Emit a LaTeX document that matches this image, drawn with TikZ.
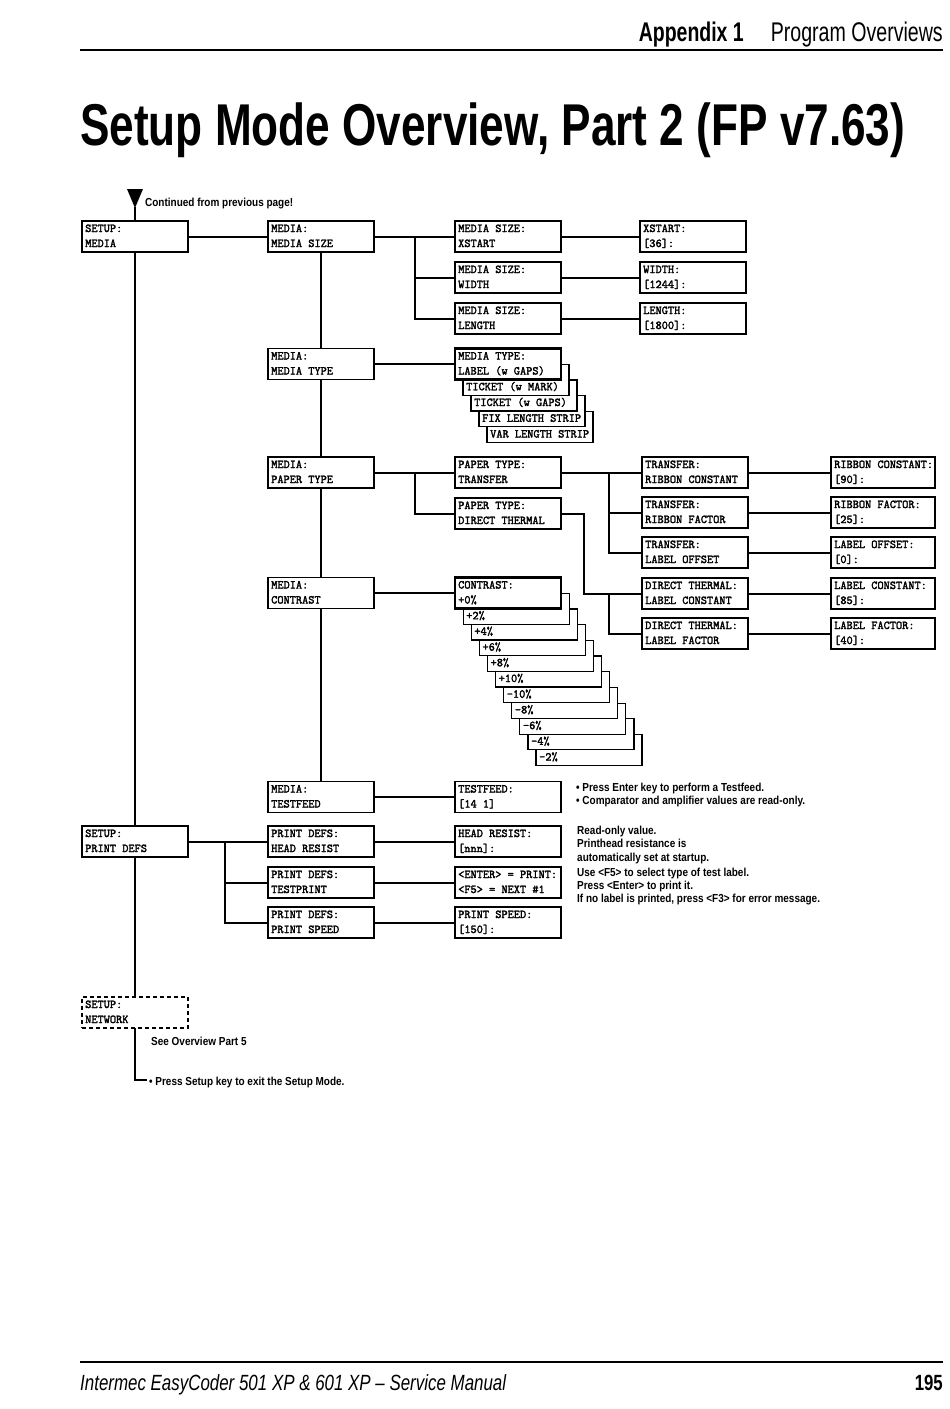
\documentclass[tikz,border=0pt]{standalone}
\usepackage{fontspec}
\setmainfont{Liberation Sans}
\newfontfamily\bxmono[FakeBold=2.2]{Latin Modern Mono}
\usepackage{graphicx}
\usetikzlibrary{calc}
\newcommand\boxfont{\fontsize{12}{12}\selectfont\bxmono}
\newcommand\notefont{\fontsize{11.6}{11.6}\selectfont\bfseries}
\newcommand\cnd[1]{\scalebox{0.86}[1]{#1}}
\tikzset{
  bx/.style={draw, line width=1.2pt, fill=white, minimum width=106pt, minimum height=31pt,
    anchor=north west, inner sep=0pt, outer sep=0pt},
  thickbx/.style={line width=2.6pt},
  dashbx/.style={dash pattern=on 4pt off 3pt},
  narrow/.style={minimum width=104pt},
  bt/.style={anchor=base west, inner sep=0pt, font=\boxfont},
  conn/.style={line width=2pt},
  note/.style={anchor=base west, inner sep=0pt, font=\notefont},
}
% #1 extra style, #2 name, #3 x, #4 y(top), #5 line 1, #6 line 2
\newcommand\mybox[6][]{%
  \node[bx,#1] (#2) at (#3,#4) {};
  \node[bt] (#2-a) at (#3+3,#4+11) {#5};
  \node[bt] (#2-b) at (#3+3,#4+26) {#6};
}
% stacked box: only the lower line visible
\newcommand\stbox[4]{%
  \node[bx] (#1) at (#2,#3) {};
  \node[bt] (#1-b) at (#2+3,#3+26) {#4};
}
\begin{document}
\begin{tikzpicture}[x=1pt,y=-1pt]
\useasboundingbox[fill=white] (0,0) rectangle (950,1409);

% ---------- header ----------
\draw[line width=1.5pt] (80,50) -- (943,50);
\node[anchor=base east, inner sep=0pt] (hdr2) at (943,41)
  {\resizebox{172pt}{\height}{\fontsize{27}{27}\selectfont Program Overviews}};
\node[anchor=base east, inner sep=0pt] (hdr1) at (744,41)
  {\resizebox{105pt}{\height}{\fontsize{27}{27}\selectfont\bfseries Appendix 1}};
\node[anchor=base west, inner sep=0pt] (title) at (80,145)
  {\resizebox{825pt}{\height}{\fontsize{59}{59}\selectfont\bfseries Setup Mode Overview, Part 2 (FP v7.63)}};

% ---------- footer ----------
\draw[line width=1.2pt] (80,1362) -- (943,1362);
\node[anchor=base west, inner sep=0pt] (foot) at (80,1390)
  {\resizebox{426pt}{\height}{\fontsize{22}{22}\selectfont\itshape Intermec EasyCoder 501 XP \& 601 XP -- Service Manual}};
\node[anchor=base east, inner sep=0pt] (pg) at (943,1390)
  {\resizebox{28pt}{\height}{\fontsize{22}{22}\selectfont\bfseries 195}};

% ---------- continued arrow ----------
\fill (127,189) -- (143,189) -- (135,208) -- cycle;
\coordinate (arrtip) at (135,207);
\node[note] (cont) at (145,206) {\cnd{Continued from previous page!}};

% ---------- boxes ----------
\mybox{smedia}{82}{221}{SETUP:}{MEDIA}
\mybox{sprint}{82}{826}{SETUP:}{PRINT DEFS}
\mybox[dashbx]{snet}{82}{997}{SETUP:}{NETWORK}

\mybox{msize}{268}{221}{MEDIA:}{MEDIA SIZE}
\mybox{mtype}{268}{348.5}{MEDIA:}{MEDIA TYPE}
\mybox{mpaper}{268}{457}{MEDIA:}{PAPER TYPE}
\mybox{mcontr}{268}{577.5}{MEDIA:}{CONTRAST}
\mybox{mtest}{268}{781.5}{MEDIA:}{TESTFEED}

\mybox{xs}{455}{221}{MEDIA SIZE:}{XSTART}
\mybox{wid}{455}{262}{MEDIA SIZE:}{WIDTH}
\mybox{len}{455}{303}{MEDIA SIZE:}{LENGTH}
\mybox{xsv}{640}{221}{XSTART:}{[36]:}
\mybox{widv}{640}{262}{WIDTH:}{[1244]:}
\mybox{lenv}{640}{303}{LENGTH:}{[1800]:}

% media type stack (back to front)
\stbox{mt4}{487}{411.5}{VAR LENGTH STRIP}
\stbox{mt3}{479}{395.75}{FIX LENGTH STRIP}
\stbox{mt2}{471}{380}{TICKET (w GAPS)}
\stbox{mt1}{463}{364.25}{TICKET (w MARK)}
\mybox[thickbx]{mt0}{455}{348.5}{MEDIA TYPE:}{LABEL (w GAPS)}

\mybox[thickbx]{ptt}{455}{457}{PAPER TYPE:}{TRANSFER}
\mybox{ptd}{455}{498}{PAPER TYPE:}{DIRECT THERMAL}

\mybox{trc}{642}{457}{TRANSFER:}{RIBBON CONSTANT}
\mybox{trf}{642}{497}{TRANSFER:}{RIBBON FACTOR}
\mybox{tro}{642}{537}{TRANSFER:}{LABEL OFFSET}
\mybox{dtc}{642}{578}{DIRECT THERMAL:}{LABEL CONSTANT}
\mybox{dtf}{642}{618}{DIRECT THERMAL:}{LABEL FACTOR}

\mybox[narrow]{trcv}{831}{457}{RIBBON CONSTANT:}{[90]:}
\mybox[narrow]{trfv}{831}{497}{RIBBON FACTOR:}{[25]:}
\mybox[narrow]{trov}{831}{537}{LABEL OFFSET:}{[0]:}
\mybox[narrow]{dtcv}{831}{578}{LABEL CONSTANT:}{[85]:}
\mybox[narrow]{dtfv}{831}{618}{LABEL FACTOR:}{[40]:}

% contrast stack (back to front)
\stbox{c10}{536}{734.5}{-2\%}
\stbox{c9}{527.9}{718.8}{-4\%}
\stbox{c8}{519.8}{703.1}{-6\%}
\stbox{c7}{511.7}{687.4}{-8\%}
\stbox{c6}{503.6}{671.7}{-10\%}
\stbox{c5}{495.5}{656}{+10\%}
\stbox{c4}{487.4}{640.3}{+8\%}
\stbox{c3}{479.3}{624.6}{+6\%}
\stbox{c2}{471.2}{608.9}{+4\%}
\stbox{c1}{463.1}{593.2}{+2\%}
\mybox[thickbx]{c0}{455}{577.5}{CONTRAST:}{+0\%}

\mybox{tfv}{455}{781.5}{TESTFEED:}{[14 1]}

\mybox{pdh}{268}{826}{PRINT DEFS:}{HEAD RESIST}
\mybox{pdt}{268}{867}{PRINT DEFS:}{TESTPRINT}
\mybox{pds}{268}{907}{PRINT DEFS:}{PRINT SPEED}
\mybox{hrv}{455}{826}{ HEAD RESIST:}{ [nnn]:}
\mybox{ptv}{455}{867}{<ENTER> = PRINT:}{<F5> = NEXT \#1}
\mybox{psv}{455}{907}{PRINT SPEED:}{[150]:}

% ---------- connectors ----------
\draw[conn] (arrtip) -- (smedia.north);
\draw[conn] (smedia.south) -- (sprint.north);
\draw[conn] (sprint.south) -- (snet.north);
\coordinate (endc) at (147,1080);
\draw[conn] (snet.south) |- (endc);

\draw[conn] (smedia.east) -- (msize.west);
\draw[conn] (msize.south) -- (mtype.north);
\draw[conn] (mtype.south) -- (mpaper.north);
\draw[conn] (mpaper.south) -- (mcontr.north);
\draw[conn] (mcontr.south) -- (mtest.north);

\draw[conn] (msize.east) -- (xs.west);
\coordinate (b1) at ($(msize.east)!0.5!(xs.west)$);
\draw[conn] (b1) |- (wid.west);
\draw[conn] (b1) |- (len.west);
\draw[conn] (xs.east) -- (xsv.west);
\draw[conn] (wid.east) -- (widv.west);
\draw[conn] (len.east) -- (lenv.west);

\draw[conn] (mtype.east) -- (mt0.west);

\draw[conn] (mpaper.east) -- (ptt.west);
\coordinate (b2) at ($(mpaper.east)!0.5!(ptt.west)$);
\draw[conn] (b2) |- (ptd.west);
\draw[conn] (ptt.east) -- (trc.west);
\coordinate (b3) at ($(trc.west)+(-33,0)$);
\draw[conn] (b3) |- (trf.west);
\draw[conn] (b3) |- (tro.west);
\coordinate (b4) at ($(dtc.west)+(-58,0)$);
\draw[conn] (ptd.east) -| (b4) -- (dtc.west);
\coordinate (b5) at ($(dtc.west)+(-33,0)$);
\draw[conn] (b5) |- (dtf.west);

\draw[conn] (trc.east) -- (trcv.west);
\draw[conn] (trf.east) -- (trfv.west);
\draw[conn] (tro.east) -- (trov.west);
\draw[conn] (dtc.east) -- (dtcv.west);
\draw[conn] (dtf.east) -- (dtfv.west);

\draw[conn] (mcontr.east) -- (c0.west);
\draw[conn] (mtest.east) -- (tfv.west);

\draw[conn] (sprint.east) -- (pdh.west);
\coordinate (b6) at (225,841.5);
\draw[conn] (b6) |- (pdt.west);
\draw[conn] (b6) |- (pds.west);
\draw[conn] (pdh.east) -- (hrv.west);
\draw[conn] (pdt.east) -- (ptv.west);
\draw[conn] (pds.east) -- (psv.west);

% ---------- notes ----------
\node[note] (n1) at (576,791) {\cnd{\textbullet\ Press Enter key to perform a Testfeed.}};
\node[note] (n2) at (576,804) {\cnd{\textbullet\ Comparator and amplifier values are read-only.}};
\node[note] (n3) at (577,834) {\cnd{Read-only value.}};
\node[note] (n4) at (577,847) {\cnd{Printhead resistance is}};
\node[note] (n5) at (577,861) {\cnd{automatically set at startup.}};
\node[note] (n6) at (577,876) {\cnd{Use <F5> to select type of test label.}};
\node[note] (n7) at (577,889) {\cnd{Press <Enter> to print it.}};
\node[note] (n8) at (577,902) {\cnd{If no label is printed, press <F3> for error message.}};
\node[note] (n9) at (151,1045) {\cnd{See Overview Part 5}};
\node[note] (n10) at (149,1085) {\cnd{\textbullet\ Press Setup key to exit the Setup Mode.}};
\end{tikzpicture}
\end{document}
